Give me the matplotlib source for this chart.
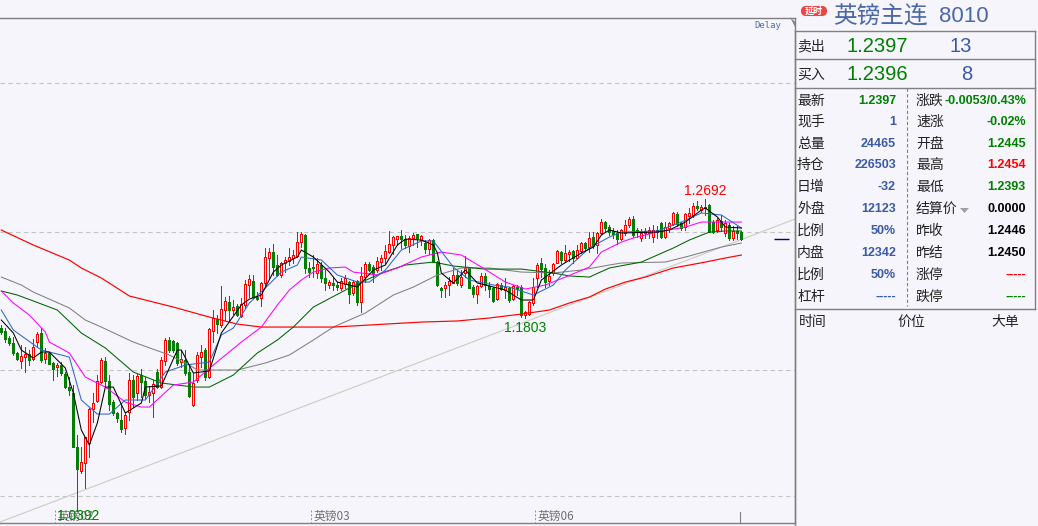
#! /usr/bin/env python

import matplotlib
matplotlib.use("Agg")
import matplotlib.pyplot as plt
from matplotlib.patches import FancyBboxPatch, Polygon

plt.rcParams['font.family'] = ['Noto Sans CJK SC', 'DejaVu Sans']

opens = [1.1738,1.1716,1.1664,1.1627,1.1553,1.1494,1.1523,1.1545,1.1508,1.1634,1.1701,1.1508,1.1553,1.1479,1.1449,1.1464,1.1397,1.1301,1.1257,1.0857,
         1.0680,1.0739,1.0887,1.1138,1.1198,1.1338,1.1494,1.1346,1.1190,1.1109,1.1057,1.0998,1.1116,1.1353,1.1257,1.1390,1.1346,1.1242,1.1257,1.1412,
         1.1301,1.1494,1.1649,1.1642,1.1627,1.1486,1.1501,1.1412,1.1168,1.1353,1.1523,1.1575,1.1375,1.1716,1.1804,1.1760,1.1871,1.1930,1.1871,1.1901,
         1.1827,1.1908,1.2056,1.2086,1.1967,1.1960,1.2071,1.2256,1.2300,1.2204,1.2130,1.2219,1.2234,1.2256,1.2271,1.2374,1.2426,1.2182,1.2189,1.2145,
         1.2204,1.2108,1.2056,1.2071,1.2056,1.2034,1.2063,1.2078,1.1997,1.2086,1.1930,1.2115,1.2211,1.2189,1.2167,1.2226,1.2256,1.2300,1.2352,1.2396,
         1.2419,1.2396,1.2345,1.2404,1.2433,1.2389,1.2367,1.2322,1.2389,1.2226,1.2034,1.2034,1.2056,1.2071,1.2130,1.2056,1.2145,1.2182,1.2041,1.1989,
         1.2049,1.2123,1.2049,1.2034,1.1952,1.2056,1.2019,1.2034,1.1952,1.2041,1.2041,1.1834,1.1841,1.1923,1.2108,1.2219,1.2182,1.2086,1.2145,1.2219,
         1.2300,1.2241,1.2285,1.2308,1.2256,1.2308,1.2367,1.2337,1.2411,1.2352,1.2441,1.2522,1.2485,1.2456,1.2441,1.2396,1.2441,1.2500,1.2544,1.2463,
         1.2404,1.2441,1.2441,1.2411,1.2463,1.2515,1.2411,1.2478,1.2507,1.2581,1.2515,1.2485,1.2567,1.2574,1.2641,1.2611,1.2626,1.2648,1.2522,1.2463,
         1.2530,1.2441,1.2500,1.2404,1.2456,1.2448]
closes = [1.1708,1.1656,1.1627,1.1553,1.1508,1.1531,1.1545,1.1501,1.1597,1.1693,1.1501,1.1553,1.1471,1.1434,1.1464,1.1405,1.1301,1.1279,1.0857,1.0694,
          1.0746,1.0931,1.1138,1.1183,1.1346,1.1501,1.1346,1.1175,1.1109,1.1072,1.0990,1.1094,1.1353,1.1227,1.1383,1.1338,1.1242,1.1264,1.1323,1.1301,
          1.1501,1.1649,1.1575,1.1575,1.1479,1.1508,1.1405,1.1235,1.1331,1.1538,1.1560,1.1375,1.1730,1.1812,1.1767,1.1878,1.1938,1.1871,1.1893,1.1834,
          1.1915,1.2063,1.2100,1.1967,1.1952,1.2071,1.2263,1.2300,1.2189,1.2130,1.2219,1.2241,1.2263,1.2278,1.2374,1.2433,1.2182,1.2152,1.2182,1.2211,
          1.2108,1.2071,1.2078,1.2056,1.2041,1.2086,1.2108,1.1989,1.2078,1.1930,1.2123,1.2211,1.2167,1.2145,1.2234,1.2256,1.2308,1.2359,1.2411,1.2419,
          1.2396,1.2352,1.2404,1.2426,1.2404,1.2419,1.2322,1.2389,1.2226,1.2056,1.2019,1.2056,1.2086,1.2130,1.2071,1.2115,1.2182,1.2034,1.1989,1.2049,
          1.2123,1.2056,1.2026,1.1938,1.2063,1.2026,1.2041,1.1945,1.2049,1.2026,1.1834,1.1856,1.1930,1.2041,1.2204,1.2174,1.2078,1.2123,1.2211,1.2308,
          1.2241,1.2293,1.2300,1.2256,1.2315,1.2367,1.2330,1.2404,1.2345,1.2441,1.2522,1.2478,1.2448,1.2433,1.2396,1.2463,1.2500,1.2544,1.2426,1.2448,
          1.2441,1.2456,1.2463,1.2463,1.2448,1.2411,1.2485,1.2515,1.2589,1.2507,1.2478,1.2581,1.2589,1.2641,1.2626,1.2633,1.2633,1.2448,1.2448,1.2537,
          1.2485,1.2515,1.2404,1.2456,1.2441,1.2396]
highs = [1.1760,1.1738,1.1679,1.1671,1.1560,1.1612,1.1597,1.1575,1.1656,1.1708,1.1738,1.1590,1.1560,1.1486,1.1479,1.1486,1.1412,1.1375,1.1316,1.0946,
         1.0857,1.0931,1.1146,1.1257,1.1390,1.1516,1.1523,1.1390,1.1205,1.1116,1.1183,1.1116,1.1405,1.1390,1.1397,1.1434,1.1375,1.1309,1.1353,1.1434,
         1.1523,1.1664,1.1671,1.1649,1.1634,1.1575,1.1575,1.1464,1.1405,1.1560,1.1612,1.1590,1.1738,1.1871,1.1834,1.2049,1.1967,1.1975,1.1945,1.1915,
         1.1960,1.2093,1.2130,1.2130,1.2004,1.2078,1.2330,1.2330,1.2359,1.2278,1.2226,1.2263,1.2330,1.2315,1.2448,1.2448,1.2433,1.2226,1.2278,1.2256,
         1.2226,1.2167,1.2093,1.2115,1.2078,1.2108,1.2130,1.2086,1.2093,1.2093,1.2189,1.2226,1.2226,1.2204,1.2263,1.2278,1.2352,1.2456,1.2419,1.2419,
         1.2463,1.2426,1.2419,1.2441,1.2433,1.2426,1.2389,1.2396,1.2396,1.2234,1.2041,1.2078,1.2115,1.2182,1.2167,1.2167,1.2271,1.2189,1.2056,1.2056,
         1.2145,1.2145,1.2078,1.2041,1.2071,1.2071,1.2108,1.2041,1.2056,1.2056,1.2056,1.1864,1.1938,1.2108,1.2219,1.2256,1.2211,1.2167,1.2219,1.2315,
         1.2308,1.2352,1.2315,1.2315,1.2352,1.2374,1.2374,1.2448,1.2448,1.2448,1.2544,1.2530,1.2500,1.2478,1.2463,1.2470,1.2537,1.2559,1.2567,1.2478,
         1.2470,1.2478,1.2485,1.2500,1.2493,1.2522,1.2522,1.2522,1.2596,1.2596,1.2522,1.2589,1.2626,1.2663,1.2678,1.2648,1.2692,1.2655,1.2537,1.2552,
         1.2574,1.2537,1.2515,1.2493,1.2493,1.2456]
lows = [1.1693,1.1634,1.1612,1.1538,1.1501,1.1442,1.1412,1.1464,1.1501,1.1597,1.1486,1.1479,1.1471,1.1353,1.1383,1.1390,1.1294,1.1242,1.0857,1.0391,
        1.0665,1.0554,1.0783,1.1042,1.1190,1.1331,1.1301,1.1131,1.1094,1.1042,1.0968,1.0953,1.1057,1.1153,1.1205,1.1227,1.1220,1.1190,1.1079,1.1294,
        1.1294,1.1464,1.1560,1.1560,1.1464,1.1449,1.1390,1.1227,1.1161,1.1338,1.1449,1.1353,1.1368,1.1634,1.1701,1.1745,1.1797,1.1797,1.1841,1.1827,
        1.1819,1.1886,1.1967,1.1960,1.1945,1.1901,1.2056,1.2108,1.2130,1.2123,1.2115,1.2152,1.2204,1.2219,1.2263,1.2337,1.2145,1.2115,1.2115,1.2108,
        1.2078,1.2019,1.2034,1.2019,1.2019,1.2019,1.2034,1.1923,1.1982,1.1908,1.1856,1.2078,1.2160,1.2078,1.2152,1.2167,1.2219,1.2293,1.2285,1.2352,
        1.2330,1.2330,1.2300,1.2352,1.2337,1.2352,1.2293,1.2285,1.2226,1.2049,1.1967,1.1967,1.1982,1.2071,1.2056,1.2041,1.2115,1.2034,1.1967,1.1923,
        1.2041,1.2019,1.1967,1.1930,1.1945,1.2019,1.1960,1.1930,1.1945,1.1982,1.1819,1.1812,1.1834,1.1908,1.2041,1.2115,1.2041,1.2056,1.2130,1.2219,
        1.2219,1.2226,1.2234,1.2219,1.2256,1.2293,1.2308,1.2300,1.2330,1.2293,1.2433,1.2448,1.2426,1.2404,1.2359,1.2389,1.2426,1.2485,1.2411,1.2411,
        1.2382,1.2404,1.2404,1.2374,1.2404,1.2404,1.2404,1.2448,1.2500,1.2493,1.2463,1.2463,1.2515,1.2559,1.2611,1.2596,1.2574,1.2448,1.2441,1.2448,
        1.2456,1.2419,1.2389,1.2389,1.2396,1.2389]

black_days = [0,3,5,8,10,12,16,18,20,22,24,26,28,31,35,36,40,44,45,48,52,55,60,62,65,68,70,74,75,78,82,84,89,93,96,99,101,105,108,109,110,113,116,119,126,130,133,135,140,145,148,150,152,155,164,167,171,175,176,179,181,185]
black_vals = [1.1797,1.1701,1.1575,1.1516,1.1560,1.1560,1.1442,1.1257,1.0983,1.0872,1.1035,1.1301,1.1301,1.1109,1.1183,1.1301,1.1309,1.1575,1.1575,1.1405,1.1420,1.1701,1.1908,1.1952,1.1982,1.2152,1.2204,1.2263,1.2315,1.2263,1.2152,1.2078,1.2041,1.2167,1.2204,1.2352,1.2396,1.2389,1.2352,1.2293,1.2145,1.2071,1.2167,1.2071,1.2019,1.1945,1.1945,1.2093,1.2204,1.2293,1.2337,1.2426,1.2463,1.2441,1.2448,1.2463,1.2522,1.2611,1.2626,1.2559,1.2485,1.2478]
blue_days = [0,3,10,17,20,24,27,31,36,41,46,52,55,58,62,66,70,74,75,80,84,89,92,96,100,105,108,113,117,123,127,133,138,141,147,152,155,164,170,175,180,185]
blue_vals = [1.1871,1.1723,1.1575,1.1523,1.1205,1.1101,1.1101,1.1205,1.1205,1.1412,1.1464,1.1486,1.1686,1.1738,1.1923,1.2034,1.2152,1.2204,1.2263,1.2241,1.2130,1.2078,1.2078,1.2167,1.2315,1.2382,1.2382,1.2189,1.2093,1.2056,1.2041,1.1982,1.2056,1.2167,1.2330,1.2411,1.2448,1.2456,1.2522,1.2589,1.2574,1.2478]
pink_days = [0,3,7,11,12,17,21,26,31,35,37,43,48,53,60,65,69,72,75,78,82,86,88,94,99,105,110,115,120,126,131,136,141,147,150,155,158,164,171,175,180,185]
pink_vals = [1.2012,1.1923,1.1834,1.1708,1.1634,1.1553,1.1375,1.1301,1.1190,1.1153,1.1153,1.1316,1.1338,1.1464,1.1634,1.1745,1.1908,1.2019,1.2093,1.2152,1.2182,1.2189,1.2152,1.2130,1.2182,1.2263,1.2300,1.2278,1.2189,1.2078,1.2026,1.2056,1.2115,1.2189,1.2300,1.2374,1.2404,1.2448,1.2485,1.2522,1.2522,1.2522]
green_days = [0,4,8,14,20,26,33,40,48,52,58,64,69,73,78,87,95,101,108,113,121,130,138,142,147,152,160,168,172,177,181,185]
green_vals = [1.2012,1.1982,1.1938,1.1871,1.1701,1.1590,1.1412,1.1331,1.1301,1.1301,1.1390,1.1553,1.1649,1.1745,1.1893,1.2034,1.2145,1.2204,1.2226,1.2197,1.2174,1.2174,1.2145,1.2123,1.2115,1.2182,1.2226,1.2330,1.2389,1.2448,1.2456,1.2456]
gray_days = [0,5,8,12,17,21,25,33,42,47,49,59,66,72,78,83,91,98,103,109,115,122,130,138,145,152,155,166,172,180,185]
gray_vals = [1.2115,1.2056,1.2004,1.1952,1.1886,1.1797,1.1745,1.1634,1.1538,1.1464,1.1427,1.1427,1.1479,1.1538,1.1649,1.1745,1.1849,1.1982,1.2041,1.2130,1.2182,1.2182,1.2152,1.2145,1.2167,1.2204,1.2219,1.2226,1.2271,1.2337,1.2367]
red_days = [0,8,17,20,25,32,36,43,52,59,65,83,92,105,114,122,130,137,142,147,151,156,161,168,176,181,185]
red_vals = [1.2463,1.2352,1.2241,1.2182,1.2108,1.1975,1.1945,1.1893,1.1819,1.1767,1.1745,1.1745,1.1760,1.1782,1.1790,1.1812,1.1841,1.1871,1.1923,1.1967,1.2026,1.2078,1.2115,1.2182,1.2226,1.2256,1.2278]

trend_days = [-0.33, 198.4]
trend_vals = [1.0302, 1.2544]
grid_vals = [1.3551, 1.2448, 1.1427, 1.0495]
last_price = 1.2397
tick_days = [13.5, 77.5, 133.5]
tick_names = ["英镑02", "英镑03", "英镑06"]

left_names = ["最新", "现手", "总量", "持仓", "日增", "外盘", "比例", "内盘", "比例", "杠杆"]
left_vals = ["1.2397", "1", "24465", "226503", "-32", "12123", "50%", "12342", "50%", "-----"]
left_cols = ["#008000", "#3A5AA8", "#3A5AA8", "#3A5AA8", "#3A5AA8", "#3A5AA8", "#3A5AA8", "#3A5AA8", "#3A5AA8", "#3A5AA8"]
right_names = ["涨跌", "速涨", "开盘", "最高", "最低", "结算价", "昨收", "昨结", "涨停", "跌停"]
right_vals = ["-0.0053/0.43%", "-0.02%", "1.2445", "1.2454", "1.2393", "0.0000", "1.2446", "1.2450", "-----", "-----"]
right_cols = ["#008000", "#008000", "#008000", "#FF0000", "#008000", "#000000", "#000000", "#000000", "#FF0000", "#008000"]
row_y = [101, 122, 144, 165, 187, 209, 231, 253, 275, 297]

BG = "#F5F5FB"
NUM_FONT = ['Liberation Sans', 'Noto Sans CJK SC']
THIN = 0.55

fig = plt.figure(figsize=(10.38, 5.26), dpi=100, facecolor=BG)
ax = fig.add_axes([0, 3 / 526, 795 / 1038, 505 / 526], facecolor=BG)
ax.set_xlim(-0.33, 198.4)
ax.set_ylim(1.0295, 1.4032)
ax.set_xticks([])
ax.set_yticks([])
for side in ax.spines:
    ax.spines[side].set_color("#808080")
    ax.spines[side].set_linewidth(1.0)
ax.spines['left'].set_visible(False)

for val in grid_vals:
    ax.axhline(val, color="#C4C4C4", lw=0.8, ls=(0, (4, 3)), zorder=1)

ax.plot(trend_days, trend_vals, color="#CCCCC0", lw=0.8, zorder=1.5)

for i in range(len(opens)):
    up = closes[i] >= opens[i]
    col = "#FF0000" if up else "#007F00"
    ax.vlines(i, lows[i], highs[i], color=col, lw=THIN, zorder=2, antialiased=False)
    ax.bar(i, abs(closes[i] - opens[i]), bottom=min(opens[i], closes[i]), width=0.55,
           facecolor=BG if up else col, edgecolor=col, linewidth=THIN, zorder=2.5, antialiased=False)

ax.plot(gray_days, gray_vals, color="#808080", lw=0.75, zorder=3)
ax.plot(red_days, red_vals, color="#FF0000", lw=0.85, zorder=3)
ax.plot(green_days, green_vals, color="#006400", lw=0.75, zorder=3)
ax.plot(pink_days, pink_vals, color="#FF00FF", lw=0.75, zorder=3)
ax.plot(blue_days, blue_vals, color="#2F66D0", lw=0.75, zorder=3)
ax.plot(black_days, black_vals, color="#000000", lw=0.75, zorder=3)

ax.hlines(last_price, 193.2, 197, color="#000080", lw=1.0)
ax.annotate("1.2692", (176, 1.2692), xytext=(0, 3), textcoords="offset points", color="#FF0000",
            fontsize=10, ha="center", family=NUM_FONT)
ax.annotate("1.1803", (130, 1.1819), xytext=(3, -11), textcoords="offset points", color="#008000",
            fontsize=10, ha="center", family=NUM_FONT)

# panel and labels are laid out in pixels
p = fig.add_axes([0, 0, 1, 1], facecolor="none")
p.set_xlim(0, 1038)
p.set_ylim(526, 0)
p.axis("off")

for d, name in zip(tick_days, tick_names):
    x = 1.3 + 4 * d
    p.plot([x, x], [510, 523], color="#909090", lw=0.7, ls=(0, (2, 2)))
    p.text(x + 2, 516, name, color="#707070", fontsize=8.5, va="center", ha="left")
p.plot([739.5, 739.5], [512, 523], color="#808080", lw=0.8)
p.text(57, 516, "1.0392", color="#008000", fontsize=10, va="center", ha="left", family=NUM_FONT)
p.text(754, 26, "Delay", color="#5070A0", fontsize=6.5, va="center", family="DejaVu Sans Mono")

p.plot([794.5, 794.5], [31, 526], color="#808080", lw=1.0)
p.plot([1035, 1035], [31, 309], color="#808080", lw=1.0)
for y in [31, 59, 88, 309]:
    p.plot([794.5, 1035], [y, y], color="#808080", lw=1.0)
p.plot([907, 907], [88, 306], color="#808080", lw=0.8, ls=(0, (3, 2)))
p.add_patch(Polygon([[790, 17], [795, 22], [795, 27]], closed=True, color="#808080", lw=0))

p.add_patch(FancyBboxPatch((802, 7), 24, 8, boxstyle="round,pad=0,rounding_size=4",
                           facecolor="#EE4444", edgecolor="#EE4444", lw=1.5))
p.text(814, 11, "延时", color="white", fontsize=6.5, ha="center", va="center", weight="bold")
p.text(833, 16, "英镑主连", color="#4A68A8", fontsize=17, va="center", ha="left")
p.text(939, 16, "8010", color="#4A68A8", fontsize=16, va="center", ha="left", family=NUM_FONT)

p.text(797, 46, "卖出", color="#222222", fontsize=10, va="center")
p.text(797, 75, "买入", color="#222222", fontsize=10, va="center")
p.text(846, 46, "1.2397", color="#008000", fontsize=14.5, va="center", family=NUM_FONT)
p.text(846, 75, "1.2396", color="#008000", fontsize=14.5, va="center", family=NUM_FONT)
p.text(972, 46, "13", color="#3A5AA8", fontsize=14.5, va="center", ha="right", family=NUM_FONT)
p.text(972, 75, "8", color="#3A5AA8", fontsize=14.5, va="center", ha="right", family=NUM_FONT)

for y, name, val, col in zip(row_y, left_names, left_vals, left_cols):
    p.text(797, y, name, color="#222222", fontsize=10, va="center")
    p.text(896, y, val, color=col, fontsize=9, va="center", ha="right", weight="bold", family=NUM_FONT)
for y, name, val, col in zip(row_y, right_names, right_vals, right_cols):
    p.text(916, y, name, color="#222222", fontsize=10, va="center")
    p.text(1026, y, val, color=col, fontsize=9, va="center", ha="right", weight="bold", family=NUM_FONT)
p.add_patch(Polygon([[960, 208], [969, 208], [964.5, 213]], closed=True, color="#A0A0A0", lw=0))

p.text(799, 322, "时间", color="#222222", fontsize=10, va="center")
p.text(897, 322, "价位", color="#222222", fontsize=10, va="center")
p.text(991, 322, "大单", color="#222222", fontsize=10, va="center")

fig.savefig("out.png", dpi=100, facecolor=BG)
